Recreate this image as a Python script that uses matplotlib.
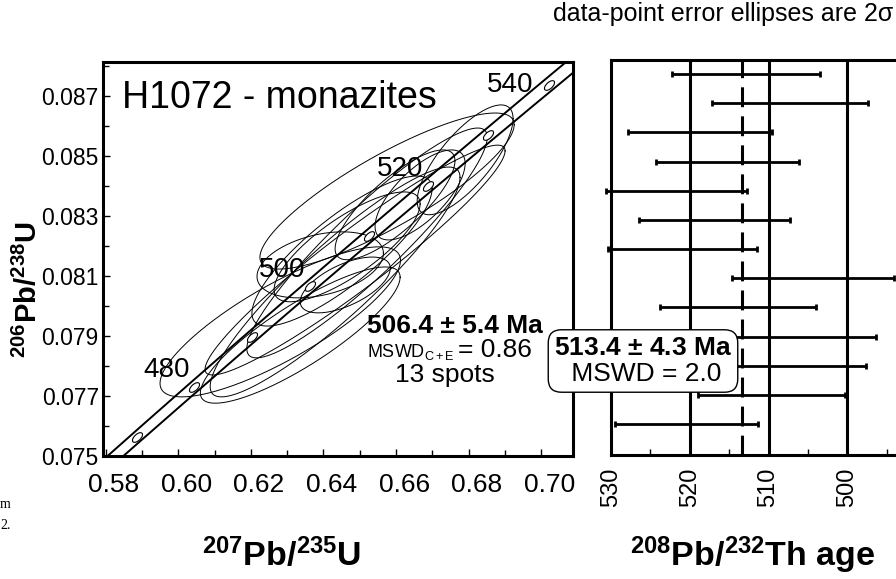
#!/usr/bin/env python3
"""H1072 monazites: concordia plot plus 208Pb/232Th age bars."""

import numpy as np
import matplotlib
matplotlib.use("Agg")
import matplotlib.pyplot as plt
from matplotlib.markers import MarkerStyle
from matplotlib.transforms import Affine2D, ScaledTranslation

plt.rcParams['font.family'] = ['Liberation Sans', 'DejaVu Sans']
plt.rcParams['mathtext.fontset'] = 'custom'
plt.rcParams['mathtext.rm'] = 'Liberation Sans'
plt.rcParams['mathtext.bf'] = 'Liberation Sans:bold'
plt.rcParams['mathtext.it'] = 'Liberation Sans:italic'

# Spot analyses (207Pb/235U, 206Pb/238U, 2 sigma errors, error correlation)
ell_x = [0.6575, 0.6281, 0.6487, 0.6432, 0.6520, 0.6451, 0.6465,
         0.6391, 0.6460, 0.6597, 0.6790, 0.6336, 0.6666]
ell_y = [0.08383, 0.07947, 0.08153, 0.08080, 0.08210, 0.08183, 0.08197,
         0.08137, 0.08070, 0.08337, 0.08487, 0.07903, 0.08370]
ell_sx = [0.0350, 0.0331, 0.0413, 0.0344, 0.0331, 0.0248, 0.0201,
          0.0174, 0.0124, 0.0165, 0.0132, 0.0275, 0.0124]
ell_sy = [0.00260, 0.00250, 0.00383, 0.00383, 0.00383, 0.00250, 0.00183,
          0.00110, 0.00093, 0.00183, 0.00183, 0.00227, 0.00150]
ell_rho = [0.85, 0.82, 0.95, 0.91, 0.92, 0.83, 0.78,
           0.35, 0.60, 0.80, 0.75, 0.85, 0.70]

# 208Pb/232Th ages (Ma) with 2 sigma errors, same 13 spots
th_age = [512.85, 507.3, 518.7, 515.2, 521.65, 516.85, 520.95,
          504.35, 513.9, 506.2, 507.05, 509.65, 520.4]
th_err = [9.45, 9.9, 9.1, 9.1, 8.95, 9.55, 9.45,
          10.25, 9.9, 9.8, 9.45, 9.35, 9.1]
th_mean = 513.4

# Concordia
L238 = 1.55125e-10
L235 = 9.8485e-10
BAND = 0.003  # relative width of the concordia band
marker_ages = [470, 480, 490, 500, 510, 520, 530, 540]
label_ages = [480, 500, 520, 540]


def concordia(t_ma, k=0.0):
    t = np.asarray(t_ma) * 1e6
    return np.exp(L235 * (1 + k) * t) - 1, np.exp(L238 * t) - 1


def ellipse(cx, cy, sx, sy, rho, n=240):
    th = np.linspace(0, 2 * np.pi, n)
    x = cx + sx * np.cos(th)
    y = cy + sy * (rho * np.cos(th) + np.sqrt(1 - rho ** 2) * np.sin(th))
    return x, y


W, H = 896, 579
fig = plt.figure(figsize=(W / 100, H / 100), dpi=100)

# ---- concordia panel
ax1 = fig.add_axes([103 / W, 1 - 456 / H, 470 / W, 394 / H])
t = np.linspace(440, 570, 500)
for k in (-BAND, BAND):
    cx, cy = concordia(t, k)
    ax1.plot(cx, cy, color='black', lw=1.4, zorder=3)

mk = MarkerStyle('o', transform=Affine2D().scale(1.0, 0.5).rotate_deg(43))
mx, my = concordia(marker_ages)
ax1.plot(mx, my, ls='none', marker=mk, ms=9, mfc='white', mec='black',
         mew=0.8, zorder=4)

lab_off = {540: (-28, 0)}
for a in label_ages:
    lx, ly = concordia(a)
    ax1.annotate(str(a), (lx, ly), xytext=lab_off.get(a, (-20, 12)),
                 textcoords='offset points', ha='center', va='center',
                 fontsize=20, zorder=5)

for i in range(len(ell_x)):
    ex, ey = ellipse(ell_x[i], ell_y[i], ell_sx[i], ell_sy[i], ell_rho[i])
    ax1.plot(ex, ey, color='black', lw=0.7, zorder=2)

ax1.set_xlim(0.5793, 0.7087)
ax1.set_ylim(0.075, 0.08813)
ax1.set_xticks(np.arange(0.58, 0.7001, 0.02))
ax1.set_xticks(np.arange(0.58, 0.7051, 0.01), minor=True)
ax1.set_xticklabels([f"{v:.2f}" for v in np.arange(0.58, 0.7001, 0.02)])
ax1.set_yticks(np.arange(0.075, 0.0871, 0.002))
ax1.set_yticks(np.arange(0.075, 0.0881, 0.001), minor=True)
ax1.set_yticklabels([f"{v:.3f}" for v in np.arange(0.075, 0.0871, 0.002)])
ax1.tick_params(which='both', direction='in', width=1.0, top=False, right=False)
ax1.tick_params(which='major', length=5)
ax1.tick_params(which='minor', length=4)
ax1.tick_params(axis='y', labelsize=16.5, pad=3)
ax1.tick_params(axis='x', labelsize=19, pad=12)
for lbl in ax1.get_xticklabels():
    lbl.set_family(['Liberation Sans Narrow', 'Liberation Sans'])
    lbl.set_transform(lbl.get_transform()
                      + ScaledTranslation(0.08, 0, fig.dpi_scale_trans))
for s in ax1.spines.values():
    s.set_linewidth(2.2)

ax1.text(0.04, 0.883, "H1072 - monazites", transform=ax1.transAxes,
         fontsize=27, va='baseline', ha='left')
ax1.text(0.749, 0.312, "506.4 \u00b1 5.4 Ma", transform=ax1.transAxes,
         fontsize=19, fontweight='bold', ha='center', va='baseline')
ax1.text(0.749, 0.251, r"MSWD$_{\mathregular{C+E}}$", transform=ax1.transAxes,
         fontsize=13, ha='right', va='baseline')
ax1.text(0.755, 0.251, "= 0.86", transform=ax1.transAxes,
         fontsize=19, ha='left', va='baseline')
ax1.text(0.728, 0.188, "13 spots", transform=ax1.transAxes,
         fontsize=19, ha='center', va='baseline')

# ---- Th age panel
ax2 = fig.add_axes([611 / W, 1 - 455 / H, 315 / W, 395 / H])
rows = np.arange(1, len(th_age) + 1)
for g in (520, 510, 500, 490):
    ax2.axvline(g, color='black', lw=2.2, zorder=1)
mline = ax2.axvline(th_mean, color='black', lw=2.2, zorder=1)
mline.set_dashes((6.5, 3.0))
eb = ax2.errorbar(th_age, rows, xerr=th_err, fmt='none', ecolor='black',
                  elinewidth=2.0, capsize=2.5, capthick=2.0, zorder=3)
for art in eb.lines[1] + eb.lines[2]:
    art.set_clip_on(False)
ax2.set_xlim(530, 490)
ax2.set_ylim(14.06, 0.52)
ax2.set_yticks([])
ax2.set_xticks([530, 520, 510, 500])
ax2.set_xticks(np.arange(525, 489, -10), minor=True)
ax2.tick_params(which='both', direction='in', width=1.0, length=4,
                top=False, labelsize=17, pad=9, labelrotation=90)
for s in ax2.spines.values():
    s.set_linewidth(2.2)

# ---- figure level text
fig.text(643 / W, 1 - 361 / H,
         "$\\mathbf{513.4\\ \u00b1\\ 4.3\\ Ma}$\n MSWD = 2.0",
         ha='center', va='center', fontsize=19, multialignment='center',
         linespacing=1.15, zorder=10,
         bbox=dict(boxstyle='round,pad=0.22,rounding_size=0.5', fc='white',
                   ec='black', lw=1.0))
fig.text(893 / W, 1 - 21 / H, "data-point error ellipses are 2\u03c3",
         ha='right', va='baseline', fontsize=18)
fig.text(282 / W, 1 - 555 / H, r"$\mathbf{{}^{207}Pb/{}^{235}U}$",
         ha='center', va='center', fontsize=24.5)
fig.text(753 / W, 1 - 555 / H, r"$\mathbf{{}^{208}Pb/{}^{232}Th\ age}$",
         ha='center', va='center', fontsize=24.5)
fig.text(28 / W, 1 - 290 / H, r"$\mathbf{{}^{206}Pb/{}^{238}U}$",
         ha='center', va='center', fontsize=21, rotation=90)
fig.text(0.0, 1 - 508 / H, "m", family='Liberation Serif', fontsize=10,
         ha='left', va='baseline')
fig.text(0.0, 1 - 529 / H, "2.", family='Liberation Serif', fontsize=10,
         ha='left', va='baseline')

fig.savefig("out.png", dpi=100)
